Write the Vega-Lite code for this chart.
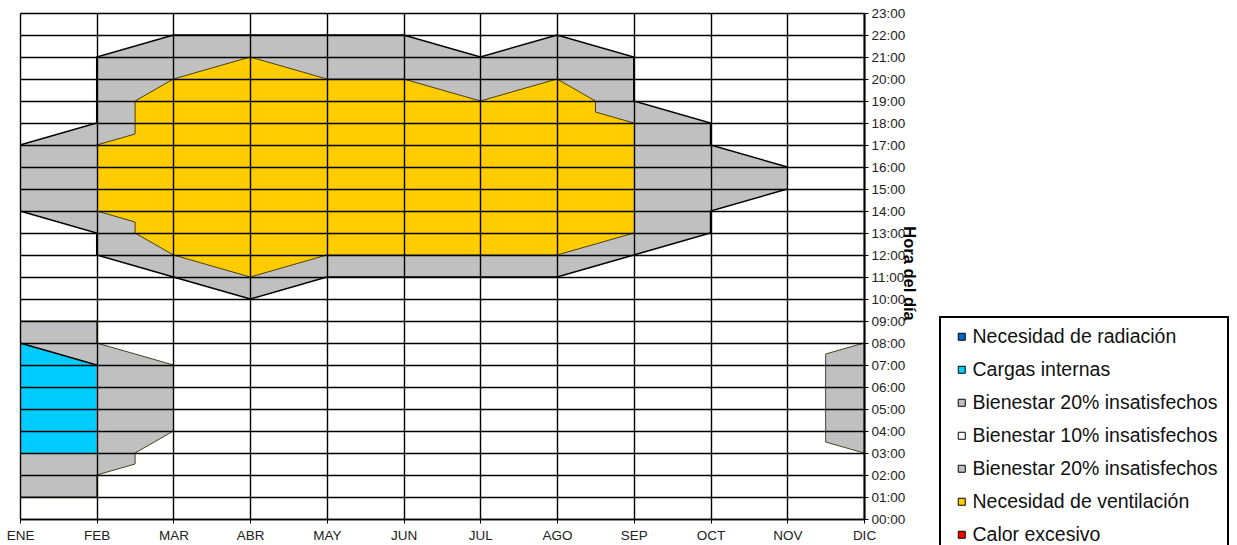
{
  "$schema": "https://vega.github.io/schema/vega-lite/v6.json",
  "width": 844,
  "height": 506,
  "autosize": {"type": "none"},
  "padding": {"left": 20, "top": 13, "right": 373, "bottom": 26},
  "background": "white",
  "data": {"values": [
    {"forma": "g1", "serie": "Bienestar 20% insatisfechos", "mes": 0, "sup": 17, "inf": 14},
    {"forma": "g1", "serie": "Bienestar 20% insatisfechos", "mes": 1, "sup": 18, "inf": 13},
    {"forma": "g1", "serie": "Bienestar 20% insatisfechos", "mes": 1, "sup": 21, "inf": 12},
    {"forma": "g1", "serie": "Bienestar 20% insatisfechos", "mes": 2, "sup": 22, "inf": 11},
    {"forma": "g1", "serie": "Bienestar 20% insatisfechos", "mes": 3, "sup": 22, "inf": 10},
    {"forma": "g1", "serie": "Bienestar 20% insatisfechos", "mes": 4, "sup": 22, "inf": 11},
    {"forma": "g1", "serie": "Bienestar 20% insatisfechos", "mes": 5, "sup": 22, "inf": 11},
    {"forma": "g1", "serie": "Bienestar 20% insatisfechos", "mes": 6, "sup": 21, "inf": 11},
    {"forma": "g1", "serie": "Bienestar 20% insatisfechos", "mes": 7, "sup": 22, "inf": 11},
    {"forma": "g1", "serie": "Bienestar 20% insatisfechos", "mes": 8, "sup": 21, "inf": 12},
    {"forma": "g1", "serie": "Bienestar 20% insatisfechos", "mes": 8, "sup": 19, "inf": 12},
    {"forma": "g1", "serie": "Bienestar 20% insatisfechos", "mes": 9, "sup": 18, "inf": 13},
    {"forma": "g1", "serie": "Bienestar 20% insatisfechos", "mes": 9, "sup": 17, "inf": 14},
    {"forma": "g1", "serie": "Bienestar 20% insatisfechos", "mes": 10, "sup": 16, "inf": 15},
    {"forma": "v1", "serie": "Necesidad de ventilación", "mes": 1, "sup": 17, "inf": 14},
    {"forma": "v1", "serie": "Necesidad de ventilación", "mes": 1.5, "sup": 17.5, "inf": 13.5},
    {"forma": "v1", "serie": "Necesidad de ventilación", "mes": 1.5, "sup": 19, "inf": 13},
    {"forma": "v1", "serie": "Necesidad de ventilación", "mes": 2, "sup": 20, "inf": 12},
    {"forma": "v1", "serie": "Necesidad de ventilación", "mes": 3, "sup": 21, "inf": 11},
    {"forma": "v1", "serie": "Necesidad de ventilación", "mes": 4, "sup": 20, "inf": 12},
    {"forma": "v1", "serie": "Necesidad de ventilación", "mes": 5, "sup": 20, "inf": 12},
    {"forma": "v1", "serie": "Necesidad de ventilación", "mes": 6, "sup": 19, "inf": 12},
    {"forma": "v1", "serie": "Necesidad de ventilación", "mes": 7, "sup": 20, "inf": 12},
    {"forma": "v1", "serie": "Necesidad de ventilación", "mes": 7.5, "sup": 19, "inf": 12.5},
    {"forma": "v1", "serie": "Necesidad de ventilación", "mes": 7.5, "sup": 18.5, "inf": 12.5},
    {"forma": "v1", "serie": "Necesidad de ventilación", "mes": 8, "sup": 18, "inf": 13},
    {"forma": "g2", "serie": "Bienestar 20% insatisfechos", "mes": 0, "sup": 9, "inf": 1},
    {"forma": "g2", "serie": "Bienestar 20% insatisfechos", "mes": 1, "sup": 9, "inf": 1},
    {"forma": "g2", "serie": "Bienestar 20% insatisfechos", "mes": 1, "sup": 8, "inf": 2},
    {"forma": "g2", "serie": "Bienestar 20% insatisfechos", "mes": 1.5, "sup": 7.5, "inf": 2.5},
    {"forma": "g2", "serie": "Bienestar 20% insatisfechos", "mes": 1.5, "sup": 7.5, "inf": 3},
    {"forma": "g2", "serie": "Bienestar 20% insatisfechos", "mes": 2, "sup": 7, "inf": 4},
    {"forma": "c1", "serie": "Cargas internas", "mes": 0, "sup": 8, "inf": 3},
    {"forma": "c1", "serie": "Cargas internas", "mes": 1, "sup": 7, "inf": 3},
    {"forma": "g3", "serie": "Bienestar 20% insatisfechos", "mes": 10.5, "sup": 7.5, "inf": 3.5},
    {"forma": "g3", "serie": "Bienestar 20% insatisfechos", "mes": 11, "sup": 8, "inf": 3}
  ]},
  "encoding": {
    "x": {
      "field": "mes", "type": "quantitative",
      "scale": {"domain": [0, 11], "nice": false, "zero": false},
      "axis": {
        "values": [0, 1, 2, 3, 4, 5, 6, 7, 8, 9, 10, 11],
        "labelExpr": "['ENE','FEB','MAR','ABR','MAY','JUN','JUL','AGO','SEP','OCT','NOV','DIC'][datum.value]",
        "title": null,
        "grid": true,
        "labelFlush": false,
        "labelOverlap": false,
        "labelPadding": 5,
        "tickSize": 4,
        "zindex": 1
      }
    },
    "y": {
      "field": "sup", "type": "quantitative",
      "scale": {"domain": [0, 23], "nice": false, "zero": false},
      "axis": {
        "orient": "right",
        "values": [0, 1, 2, 3, 4, 5, 6, 7, 8, 9, 10, 11, 12, 13, 14, 15, 16, 17, 18, 19, 20, 21, 22, 23],
        "labelExpr": "(datum.value < 10 ? '0' : '') + datum.value + ':00'",
        "grid": true,
        "labelFlush": false,
        "labelOverlap": false,
        "labelPadding": 3,
        "tickSize": 4,
        "domainWidth": 2,
        "title": "Hora del día",
        "titleFontSize": 16.5,
        "titleFontWeight": "bold",
        "titleColor": "black",
        "titleAngle": 90,
        "titleX": 44,
        "titleY": 260,
        "titleAlign": "center",
        "titleBaseline": "middle",
        "zindex": 1
      }
    }
  },
  "layer": [
    {
      "transform": [{"filter": "datum.forma == 'g1'"}],
      "mark": {"type": "area", "opacity": 1},
      "encoding": {
        "y2": {"field": "inf"},
        "color": {
          "field": "serie", "type": "nominal",
          "scale": {
            "domain": ["Necesidad de radiación", "Cargas internas", "Bienestar 20% insatisfechos", "Bienestar 10% insatisfechos", "Bienestar 20% insatisfechos ", "Necesidad de ventilación", "Calor excesivo"],
            "range": ["#0066CC", "#00CCFF", "#C0C0C0", "#FFFFFF", "#C0C0C0", "#FFCC00", "#FF0000"]
          },
          "legend": {"title": null}
        }
      }
    },
    {
      "transform": [{"filter": "datum.forma == 'v1' || datum.forma == 'g2' || datum.forma == 'c1' || datum.forma == 'g3'"}],
      "mark": {"type": "area", "opacity": 1},
      "encoding": {
        "y2": {"field": "inf"},
        "detail": {"field": "forma"},
        "color": {"field": "serie", "type": "nominal", "legend": {"title": null}}
      }
    },
    {
      "transform": [{"filter": "datum.forma == 'v1' || datum.forma == 'g2' || datum.forma == 'g3'"}],
      "mark": {"type": "line", "color": "#3a3000", "strokeWidth": 0.9},
      "encoding": {
        "detail": {"field": "forma"}
      }
    },
    {
      "transform": [{"filter": "datum.forma == 'v1' || datum.forma == 'g2' || datum.forma == 'g3'"}],
      "mark": {"type": "line", "color": "#3a3000", "strokeWidth": 0.9},
      "encoding": {
        "y": {
          "field": "inf", "type": "quantitative",
          "scale": {"domain": [0, 23], "nice": false, "zero": false},
          "axis": {
            "orient": "right",
            "values": [0, 1, 2, 3, 4, 5, 6, 7, 8, 9, 10, 11, 12, 13, 14, 15, 16, 17, 18, 19, 20, 21, 22, 23],
            "labelExpr": "(datum.value < 10 ? '0' : '') + datum.value + ':00'",
            "grid": true,
            "labelFlush": false,
            "labelOverlap": false,
            "labelPadding": 3,
            "tickSize": 4,
            "domainWidth": 2,
            "title": "Hora del día",
            "titleFontSize": 16.5,
            "titleFontWeight": "bold",
            "titleColor": "black",
            "titleAngle": 90,
            "titleX": 44,
            "titleY": 260,
            "titleAlign": "center",
            "titleBaseline": "middle",
            "zindex": 1
          }
        },
        "detail": {"field": "forma"}
      }
    },
    {
      "transform": [{"filter": "datum.forma == 'g3' && datum.mes == 10.5"}],
      "mark": {"type": "rule", "color": "#333", "strokeWidth": 0.9},
      "encoding": {
        "y2": {"field": "inf"}
      }
    },
    {
      "transform": [{"filter": "datum.forma == 'g1' || datum.forma == 'c1'"}],
      "mark": {"type": "line", "color": "black", "strokeWidth": 1.5},
      "encoding": {
        "detail": {"field": "forma"}
      }
    },
    {
      "transform": [{"filter": "datum.forma == 'g1'"}],
      "mark": {"type": "line", "color": "black", "strokeWidth": 1.5},
      "encoding": {
        "y": {
          "field": "inf", "type": "quantitative",
          "scale": {"domain": [0, 23], "nice": false, "zero": false},
          "axis": {
            "orient": "right",
            "values": [0, 1, 2, 3, 4, 5, 6, 7, 8, 9, 10, 11, 12, 13, 14, 15, 16, 17, 18, 19, 20, 21, 22, 23],
            "labelExpr": "(datum.value < 10 ? '0' : '') + datum.value + ':00'",
            "grid": true,
            "labelFlush": false,
            "labelOverlap": false,
            "labelPadding": 3,
            "tickSize": 4,
            "domainWidth": 2,
            "title": "Hora del día",
            "titleFontSize": 16.5,
            "titleFontWeight": "bold",
            "titleColor": "black",
            "titleAngle": 90,
            "titleX": 44,
            "titleY": 260,
            "titleAlign": "center",
            "titleBaseline": "middle",
            "zindex": 1
          }
        },
        "detail": {"field": "forma"}
      }
    }
  ],
  "config": {
    "font": "Liberation Sans",
    "view": {"stroke": null},
    "axis": {
      "gridColor": "#000000",
      "gridWidth": 1.4,
      "gridOpacity": 1,
      "domainColor": "#000000",
      "domainWidth": 1.5,
      "tickColor": "#000000",
      "tickWidth": 1,
      "labelFont": "Liberation Sans",
      "labelFontSize": 13.5,
      "labelColor": "#222222",
      "titleFont": "Liberation Sans"
    },
    "legend": {
      "orient": "none",
      "legendX": 920,
      "legendY": 304,
      "symbolType": "square",
      "symbolSize": 49,
      "symbolStrokeColor": "black",
      "symbolStrokeWidth": 1,
      "symbolOpacity": 1,
      "labelFont": "Liberation Sans",
      "labelFontSize": 19.5,
      "labelColor": "#111111",
      "labelExpr": "trim(datum.label)",
      "labelLimit": 400,
      "labelOffset": 1,
      "symbolOffset": 2,
      "padding": 10,
      "rowPadding": 12,
      "strokeColor": "black",
      "strokeWidth": 2,
      "fillColor": "white"
    }
  }
}
